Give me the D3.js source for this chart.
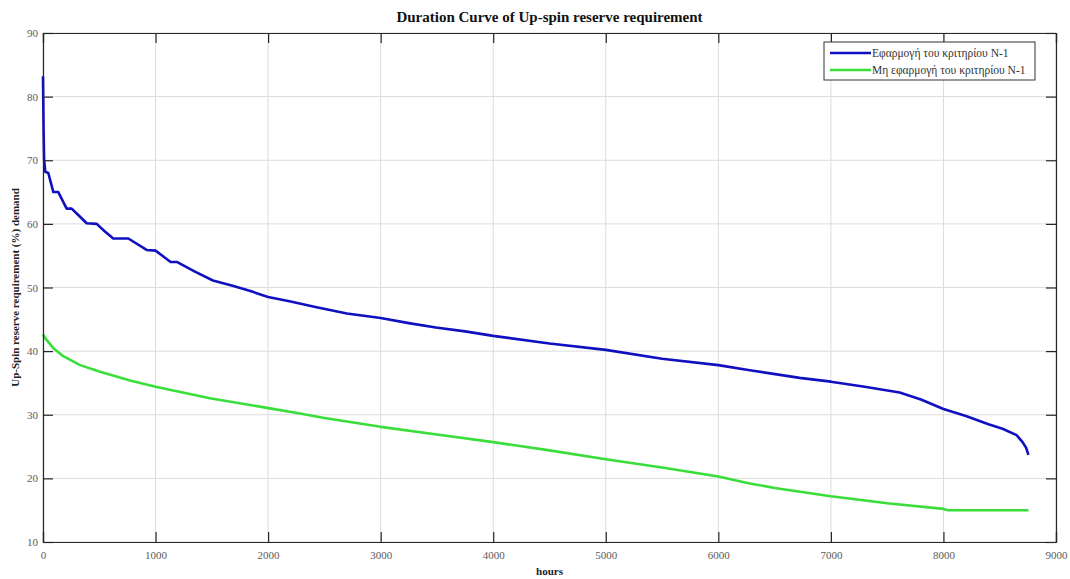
<!DOCTYPE html>
<html>
<head>
<meta charset="utf-8">
<script src="https://cdn.jsdelivr.net/npm/d3@7"></script>
<style>
  body { margin: 0; background: #fff; }
  text { font-family: "Liberation Serif", "DejaVu Serif", serif; }
</style>
</head>
<body>
<div id="chart-area"></div>
<script>
const chartWidth = 1070;
const chartHeight = 579;
const margin = {top: 33, right: 14, bottom: 37, left: 43};
const width = chartWidth - margin.left - margin.right;
const height = chartHeight - margin.top - margin.bottom;

// data
const seriesNames = ["Εφαρμογή του κριτηρίου N-1", "Μη εφαρμογή του κριτηρίου N-1"];
const seriesColors = ["#1010c0", "#3ade3a"];

const withCriterionHours = [0, 5, 10, 20, 47, 92, 136, 210, 255, 313, 388, 477, 550, 624, 758, 921, 1000, 1134, 1193, 1350, 1510, 1700, 1850, 2000, 2200, 2430, 2700, 3000, 3250, 3490, 3750, 4000, 4500, 5000, 5500, 6000, 6279, 6723, 7000, 7300, 7611, 7800, 8000, 8200, 8400, 8525, 8650, 8703, 8735, 8755];
const withCriterion = [83.2, 75, 70, 68.2, 68, 65, 65, 62.4, 62.4, 61.4, 60.1, 60, 58.8, 57.7, 57.7, 55.9, 55.8, 54, 54, 52.5, 51.1, 50.2, 49.4, 48.5, 47.8, 46.9, 45.9, 45.2, 44.4, 43.7, 43.1, 42.4, 41.2, 40.2, 38.8, 37.8, 37.0, 35.8, 35.2, 34.4, 33.5, 32.4, 30.9, 29.8, 28.5, 27.8, 26.8, 25.7, 24.8, 23.7];

const withoutCriterionHours = [0, 30, 90, 180, 330, 500, 773, 1000, 1483, 2016, 2283, 2500, 3000, 3500, 4000, 4500, 5000, 5500, 6000, 6279, 6500, 7000, 7500, 8000, 8040, 8755];
const withoutCriterion = [42.6, 41.8, 40.5, 39.2, 37.8, 36.8, 35.4, 34.4, 32.6, 31.0, 30.2, 29.5, 28.1, 26.9, 25.7, 24.4, 23.0, 21.7, 20.3, 19.2, 18.5, 17.2, 16.1, 15.2, 15.0, 15.0];

const xTicks = [0, 1000, 2000, 3000, 4000, 5000, 6000, 7000, 8000, 9000];
const yTicks = [10, 20, 30, 40, 50, 60, 70, 80, 90];

const series = [
  withCriterionHours.map((h, i) => ({hour: h, value: withCriterion[i]})),
  withoutCriterionHours.map((h, i) => ({hour: h, value: withoutCriterion[i]}))
];

let svg = d3.select("#chart-area").append("svg")
  .attr("width", chartWidth)
  .attr("height", chartHeight);

let g = svg.append("g")
  .attr("transform", `translate(${margin.left}, ${margin.top})`);

const x = d3.scaleLinear().domain([0, 9000]).range([0, width]);
const y = d3.scaleLinear().domain([10, 90]).range([height, 0]);

// grid
g.append("g").selectAll("line").data(xTicks).enter().append("line")
  .attr("x1", d => x(d)).attr("x2", d => x(d))
  .attr("y1", 0).attr("y2", height)
  .attr("stroke", "#dcdcdc").attr("stroke-width", 1);
g.append("g").selectAll("line").data(yTicks).enter().append("line")
  .attr("x1", 0).attr("x2", width)
  .attr("y1", d => y(d)).attr("y2", d => y(d))
  .attr("stroke", "#dcdcdc").attr("stroke-width", 1);

// lines
const line = d3.line().x(d => x(d.hour)).y(d => y(d.value));
series.forEach((s, i) => {
  g.append("path")
    .datum(s)
    .attr("fill", "none")
    .attr("stroke", seriesColors[i])
    .attr("stroke-width", 2.6)
    .attr("stroke-linejoin", "round")
    .attr("d", line);
});

// axes, ticks pointing inward on all sides
const tickLen = 10;
let xAxisCall = d3.axisBottom(x).tickValues(xTicks).tickSize(-tickLen).tickPadding(9).tickFormat(d3.format("d"));
let yAxisCall = d3.axisLeft(y).tickValues(yTicks).tickSize(-tickLen).tickPadding(14).tickFormat(d3.format("d"));
let xTop = d3.axisTop(x).tickValues(xTicks).tickSize(-tickLen).tickFormat("");
let yRight = d3.axisRight(y).tickValues(yTicks).tickSize(-tickLen).tickFormat("");

const styleAxis = sel => {
  sel.select(".domain").attr("stroke", "#262626").attr("stroke-width", 1.2);
  sel.selectAll(".tick line").attr("stroke", "#262626").attr("stroke-width", 1.2);
  sel.selectAll(".tick text")
    .attr("fill", "#5a5a5a")
    .attr("font-size", "11px")
    .attr("font-family", "Liberation Serif, serif");
};

g.append("g").attr("transform", `translate(0, ${height})`).call(xAxisCall).call(styleAxis);
g.append("g").call(yAxisCall).call(styleAxis);
g.append("g").call(xTop).call(styleAxis);
g.append("g").attr("transform", `translate(${width}, 0)`).call(yRight).call(styleAxis);

g.selectAll(".tick text").each(function() {
  const t = d3.select(this);
  if (t.attr("x") && +t.attr("x") < 0) t.attr("x", -5);
});

// title and labels
svg.append("text")
  .attr("x", margin.left + width / 2)
  .attr("y", 22)
  .attr("text-anchor", "middle")
  .attr("font-size", "15px")
  .attr("font-weight", "bold")
  .attr("fill", "#111")
  .text("Duration Curve of Up-spin reserve requirement");

svg.append("text")
  .attr("x", margin.left + width / 2)
  .attr("y", 575)
  .attr("text-anchor", "middle")
  .attr("font-size", "11px")
  .attr("font-weight", "bold")
  .attr("fill", "#222")
  .text("hours");

svg.append("text")
  .attr("transform", `translate(19, ${margin.top + height / 2}) rotate(-90)`)
  .attr("text-anchor", "middle")
  .attr("font-size", "11px")
  .attr("font-weight", "bold")
  .attr("fill", "#222")
  .text("Up-Spin reserve requirement (%) demand");

// legend
const legend = svg.append("g").attr("transform", "translate(824, 42)");
legend.append("rect")
  .attr("width", 211).attr("height", 38)
  .attr("fill", "#fff")
  .attr("stroke", "#333").attr("stroke-width", 1);
seriesNames.forEach((name, i) => {
  legend.append("line")
    .attr("x1", 6).attr("x2", 47)
    .attr("y1", 11 + i * 17).attr("y2", 11 + i * 17)
    .attr("stroke", seriesColors[i]).attr("stroke-width", 2.6);
  legend.append("text")
    .attr("x", 48).attr("y", 15 + i * 17)
    .attr("font-size", "11.5px")
    .attr("fill", "#333")
    .text(name);
});
</script>
</body>
</html>
